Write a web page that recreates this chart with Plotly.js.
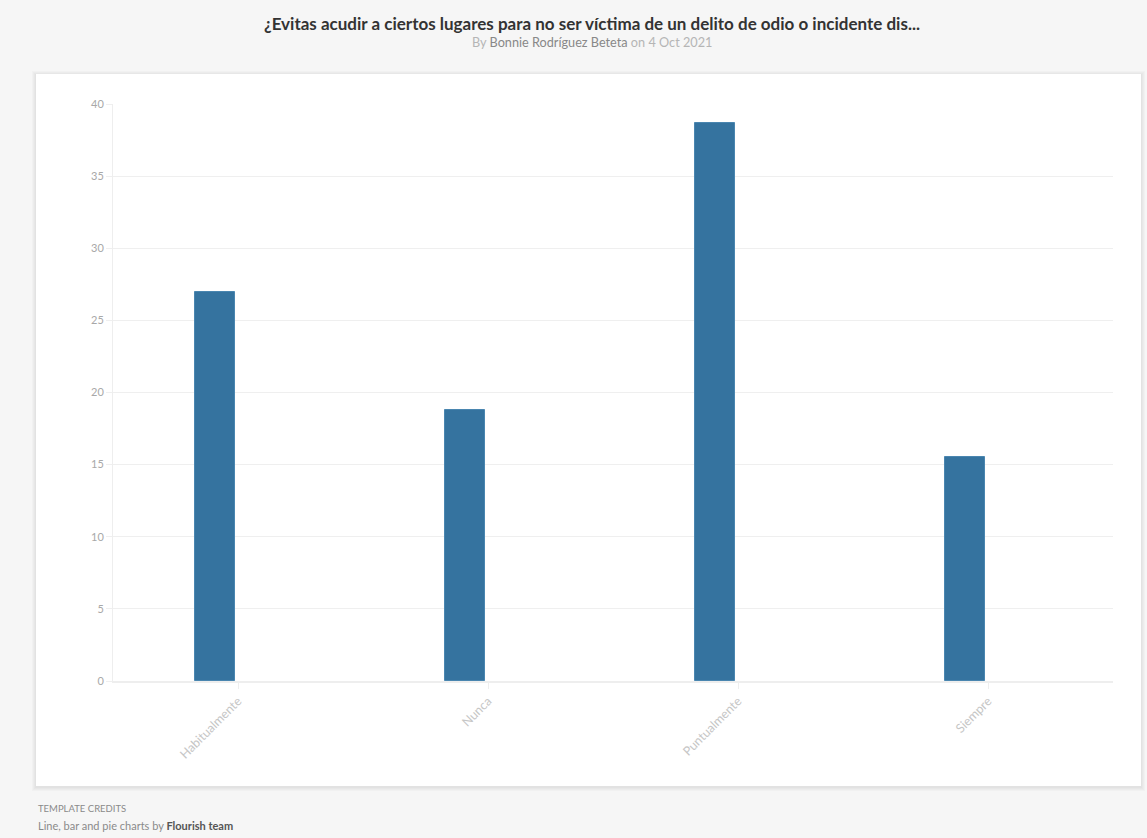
<!DOCTYPE html>
<html>
<head>
<meta charset="utf-8">
<script src="https://cdn.plot.ly/plotly-3.0.1.min.js"></script>
<style>
html,body{margin:0;padding:0;background:#f6f6f6;}
#chart{width:1147px;height:838px;}
</style>
</head>
<body>
<div id="chart"></div>
<script>
const categories = ["Habitualmente", "Nunca", "Puntualmente", "Siempre"];
const values = [27.0, 18.8, 38.7, 15.5];
const yTickVals = [0, 5, 10, 15, 20, 25, 30, 35, 40];

const titleText = "¿Evitas acudir a ciertos lugares para no ser víctima de un delito de odio o incidente dis...";
const subtitleText = "<span style='color:#b5b5b5'>By </span>Bonnie Rodríguez Beteta<span style='color:#b5b5b5'> on 4 Oct 2021</span>";
const creditsHead = "TEMPLATE CREDITS";
const creditsLine = "Line, bar and pie charts by <b style='color:#555'>Flourish team</b>";

const FONT = "Lato, 'Source Sans Pro', 'Noto Sans', sans-serif";

const trace = {
  type: "bar",
  x: categories,
  y: values,
  width: 0.16,
  offset: -0.172,
  marker: {color: "#35739f", line: {color: "#4a86b0", width: 1}},
  hoverinfo: "x+y"
};

// shadow layers for the white card
const shapes = [];
const cx0 = -0.077, cx1 = 1.028, cy0 = -0.182, cy1 = 1.052;
const px = 1/1000, py = 1/577;
for (let i = 4; i >= 1; i--) {
  shapes.push({type:"rect", xref:"paper", yref:"paper", layer:"below",
    x0: cx0 - i*px, x1: cx1 + i*px, y0: cy0 - (i+1)*py, y1: cy1 + (i-1)*py,
    fillcolor: "rgba(0,0,0,0.018)", line:{width:0}});
}
shapes.push({type:"rect", xref:"paper", yref:"paper", layer:"below",
  x0: cx0, x1: cx1, y0: cy0, y1: cy1, fillcolor:"#ffffff", line:{width:0}});

const layout = {
  width: 1147, height: 838,
  margin: {l:113, r:34, t:104, b:157},
  paper_bgcolor: "#f6f6f6",
  plot_bgcolor: "rgba(0,0,0,0)",
  font: {family: FONT, color: "#999"},
  showlegend: false,
  bargap: 0,
  title: {
    text: "<b>" + titleText + "</b>",
    x: 592/1147, xanchor: "center",
    y: 1 - 24/838, yanchor: "middle",
    xref: "container", yref: "container",
    font: {family: FONT, size: 17, color: "#333"}
  },
  xaxis: {
    type: "category",
    range: [-0.5, 3.5],
    tickangle: -45,
    tickfont: {family: FONT, size: 12.5, color: "#c6c6c6"},
    showgrid: false,
    showline: true, linecolor: "#eeeeee", linewidth: 2,
    ticks: "outside", ticklen: 6, tickcolor: "#eeeeee", tickwidth: 1,
    zeroline: false, fixedrange: true
  },
  yaxis: {
    range: [0, 40],
    tickvals: yTickVals,
    tickfont: {family: FONT, size: 11, color: "#a8a8a8"},
    showgrid: true, gridcolor: "#efefef", gridwidth: 1,
    showline: true, linecolor: "#eeeeee", linewidth: 1,
    ticks: "outside", ticklen: 6, tickcolor: "#efefef",
    zeroline: false, fixedrange: true
  },
  shapes: shapes,
  annotations: [
    {text: subtitleText, xref:"paper", yref:"paper", x:(592-113)/1000, y:(681-42)/577,
     xanchor:"center", yanchor:"middle", showarrow:false,
     font:{family:FONT, size:12.7, color:"#888"}},
    {text: creditsHead, xref:"paper", yref:"paper", x:(36-113)/1000, y:(681-808)/577,
     xanchor:"left", yanchor:"middle", showarrow:false,
     font:{family:FONT, size:9.5, color:"#8a8a8a"}},
    {text: creditsLine, xref:"paper", yref:"paper", x:(36-113)/1000, y:(681-825)/577,
     xanchor:"left", yanchor:"middle", showarrow:false,
     font:{family:FONT, size:11, color:"#8a8a8a"}}
  ]
};

Plotly.newPlot("chart", [trace], layout, {displayModeBar:false, staticPlot:false});
</script>
</body>
</html>
